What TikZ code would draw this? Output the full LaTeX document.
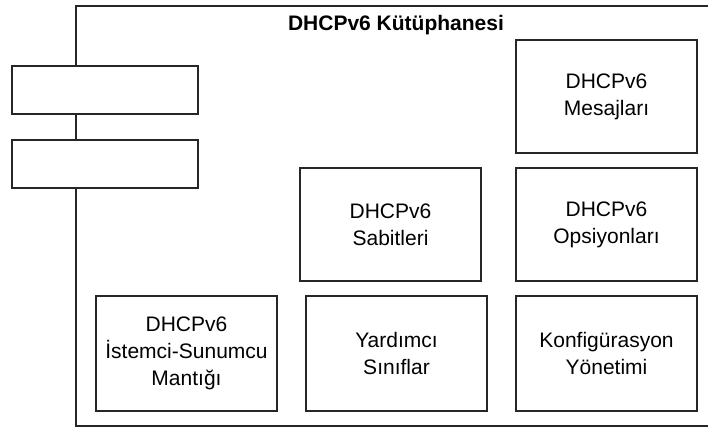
\documentclass[tikz,border=0pt]{standalone}
\usepackage{fontspec}
\setmainfont{Liberation Sans}
\usepackage{tikz}
\usetikzlibrary{positioning}

\tikzset{
  comp/.style={draw=black!85, line width=1.4pt, fill=white, minimum width=181pt,
    minimum height=113pt, align=center, inner sep=0pt,
    font=\fontsize{21}{27}\selectfont},
  portbox/.style={draw=black!85, line width=1.4pt, fill=white, minimum width=186pt,
    minimum height=48pt, inner sep=0pt}
}

\begin{document}
\begin{tikzpicture}[x=1pt,y=-1pt]
\useasboundingbox[fill=white] (0,0) rectangle (708,428);

% component frame (right side runs off the picture)
\draw[black!85, line width=1.4pt] (716,6) -- (76,6) -- (76,426) -- (716,426);
\node[font=\bfseries\fontsize{21}{26}\selectfont] (title) at (396,25) {DHCPv6 Kütüphanesi};

% the two interface boxes on the left edge
\node[portbox] (port1) at (105,90) {};
\node[portbox] (port2) at (105,164) {};

% top right
\node[comp] (mesaj) at (606.5,96.5) {DHCPv6\\Mesajları};

% middle row
\node[comp] (sabit) at (390.5,224.5) {DHCPv6\\Sabitleri};
\node[comp] (opsiyon) at (606.5,224.5) {DHCPv6\\Opsiyonları};

% bottom row
\node[comp, minimum height=115pt] (mantik) at (186.5,353.5) {DHCPv6\\İstemci-Sunumcu\\Mantığı};
\node[comp, minimum height=115pt] (yardim) at (396.5,353.5) {Yardımcı\\Sınıflar};
\node[comp, minimum height=115pt] (konfig) at (606.5,353.5) {Konfigürasyon\\Yönetimi};

\end{tikzpicture}
\end{document}
